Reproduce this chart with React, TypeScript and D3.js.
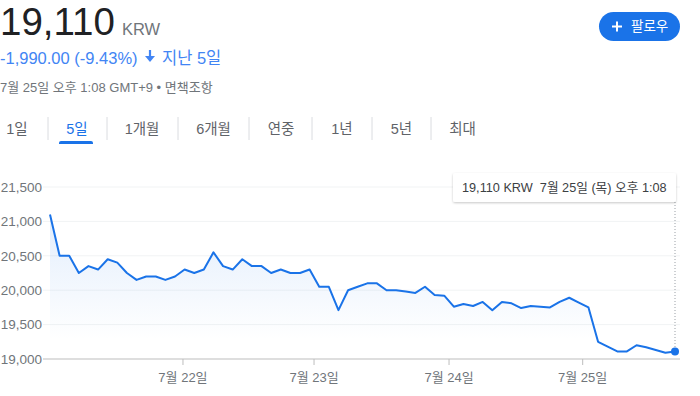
import * as d3 from 'd3';

// 5-day price series (KRW), one point every 30 minutes
const prices = [
  21100, 20500, 20500, 20250, 20350, 20300, 20450, 20400, 20250, 20150,
  20200, 20200, 20150, 20200, 20300, 20250, 20300, 20550, 20350, 20300,
  20450, 20350, 20350, 20250, 20300, 20250, 20250, 20300, 20050, 20050,
  19710, 20000, 20050, 20100, 20100, 20000, 20000, 19980, 19960, 20050,
  19930, 19920, 19760, 19800, 19770, 19830, 19710, 19830, 19810, 19740,
  19770, 19760, 19750, 19830, 19890, 19820, 19750, 19250, 19180, 19110,
  19110, 19200, 19170, 19130, 19090, 19110,
];

const yTicks = [19000, 19500, 20000, 20500, 21000, 21500];
const dayTickIndex = [13.83, 27.46, 41.5, 55.4];
const dayTickLabels = ['7월 22일', '7월 23일', '7월 24일', '7월 25일'];

const rangeTabs = ['1일', '5일', '1개월', '6개월', '연중', '1년', '5년', '최대'];
const activeTab = 1;

const FONT = "Arial, 'Liberation Sans', 'Noto Sans CJK KR', sans-serif";

export default function App() {
  const width = 700;
  const height = 396;
  const margin = { left: 50, right: 25, top: 187, bottom: 37 };

  const x = d3.scaleLinear()
    .domain([0, prices.length - 1])
    .range([margin.left, width - margin.right]);

  const y = d3.scaleLinear()
    .domain([19000, 21500])
    .range([height - margin.bottom, margin.top]);

  const line = d3.line<number>()
    .x((d, i) => x(i))
    .y(d => y(d));

  const area = d3.area<number>()
    .x((d, i) => x(i))
    .y0(y(19000))
    .y1(d => y(d));

  const last = prices.length - 1;
  const gridX0 = 43;
  const gridX1 = 680;

  // tab layout
  const tabSeps = [48, 107, 178, 249, 312, 372, 431];
  const tabCenters = [17, 77, 142, 213.5, 281, 342, 401.5, 462.5];

  return (
    <svg
      width={width}
      height={height}
      style={{ position: 'absolute', left: 0, top: 0, fontFamily: FONT }}
    >
      <defs>
        <linearGradient id="fade" gradientUnits="userSpaceOnUse" x1="0" y1="210" x2="0" y2="340">
          <stop offset="0" stopColor="#1a73e8" stopOpacity={0.13} />
          <stop offset="1" stopColor="#1a73e8" stopOpacity={0} />
        </linearGradient>
        <filter id="shadow" x="-10%" y="-30%" width="120%" height="170%">
          <feDropShadow dx="0" dy="1" stdDeviation="1.2" floodColor="#000" floodOpacity="0.22" />
        </filter>
      </defs>

      {/* header */}
      <text x={0} y={35} fontSize={38.5} fill="#202124">19,110</text>
      <text x={122} y={35} fontSize={16.5} fill="#70757a">KRW</text>
      <text x={0} y={64} fontSize={16.5} fill="#4285f4">-1,990.00 (-9.43%)</text>
      <g transform="translate(150,56)" fill="#4285f4" stroke="#4285f4">
        <line x1={0} y1={-6} x2={0} y2={3} strokeWidth={2.2} />
        <path d="M-5,0 L0,6 L5,0 Z" stroke="none" />
      </g>
      <text x={162} y={64} fontSize={16.5} fill="#4285f4">지난 5일</text>
      <text x={0} y={92} fontSize={13} fill="#70757a">7월 25일 오후 1:08 GMT+9 • 면책조항</text>

      {/* follow button */}
      <rect x={599} y={12} width={81} height={29} rx={14.5} fill="#1a73e8" />
      <g stroke="#fff" strokeWidth={2}>
        <line x1={612} y1={26.5} x2={622} y2={26.5} />
        <line x1={617} y1={21.5} x2={617} y2={31.5} />
      </g>
      <text x={631} y={31} fontSize={13.5} fill="#fff">팔로우</text>

      {/* range tabs */}
      {tabSeps.map(s => (
        <line key={s} x1={s} x2={s} y1={117} y2={140} stroke="#dadce0" />
      ))}
      {rangeTabs.map((t, i) => (
        <text
          key={t}
          x={tabCenters[i]}
          y={134}
          textAnchor="middle"
          fontSize={14.5}
          fill={i === activeTab ? '#1a73e8' : '#5f6368'}
        >
          {t}
        </text>
      ))}
      <path d="M59,144 L59,143 Q59,141 61,141 L91,141 Q93,141 93,143 L93,144 Z" fill="#1a73e8" />

      {/* grid */}
      {yTicks.map(v => (
        <g key={v}>
          <line
            x1={gridX0}
            x2={gridX1}
            y1={y(v)}
            y2={y(v)}
            stroke={v === 19000 ? '#bdbdbd' : '#f1f3f4'}
            strokeWidth={1}
          />
          <text
            x={42}
            y={y(v)}
            dy="0.35em"
            textAnchor="end"
            fontSize={13.5}
            fill="#70757a"
          >
            {d3.format(',')(v)}
          </text>
        </g>
      ))}

      {/* x ticks */}
      {dayTickIndex.map((d, i) => (
        <g key={d}>
          <line x1={x(d)} x2={x(d)} y1={y(19000)} y2={y(19000) + 6} stroke="#bdbdbd" />
          <text x={x(d)} y={382} textAnchor="middle" fontSize={13} fill="#70757a">
            {dayTickLabels[i]}
          </text>
        </g>
      ))}

      {/* series */}
      <path d={area(prices) ?? ''} fill="url(#fade)" />
      <path d={line(prices) ?? ''} fill="none" stroke="#1a73e8" strokeWidth={2} strokeLinejoin="round" />

      {/* hover marker */}
      <line
        x1={x(last)}
        x2={x(last)}
        y1={202}
        y2={y(prices[last])}
        stroke="#9aa0a6"
        strokeDasharray="1,2"
      />
      <circle cx={x(last)} cy={y(prices[last])} r={4} fill="#1a73e8" />

      {/* tooltip */}
      <rect x={453} y={173} width={223} height={29} rx={2} fill="#fff" filter="url(#shadow)" />
      <text x={462} y={192} fontSize={12.7} fill="#3c4043">
        19,110 KRW{'\u00a0\u00a0'}7월 25일 (목) 오후 1:08
      </text>
    </svg>
  );
}
